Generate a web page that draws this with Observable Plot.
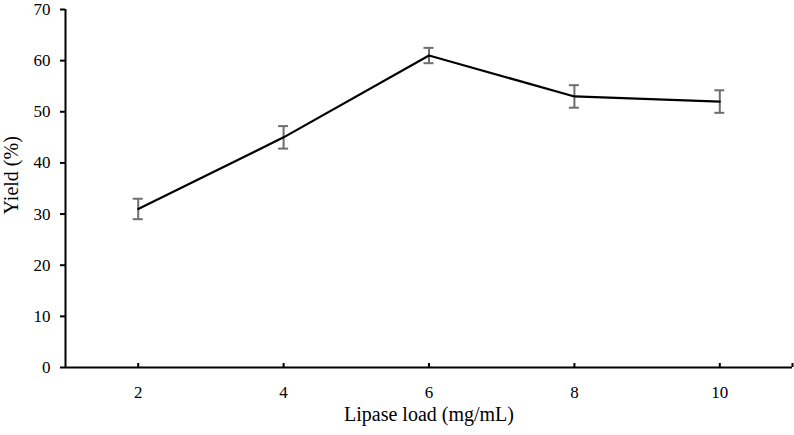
<!DOCTYPE html>
<html>
<head>
<meta charset="utf-8">
<script src="https://cdn.jsdelivr.net/npm/d3@7"></script>
<script src="https://cdn.jsdelivr.net/npm/@observablehq/plot@0.6"></script>
<style>
  html, body { margin: 0; padding: 0; background: #fff; }
  #chart svg { display: block; }
</style>
</head>
<body>
<div id="chart"></div>
<script>
const lipaseLoad = [2, 4, 6, 8, 10];
const yieldPct = [31, 45, 61, 53, 52];
const errPct = [2.0, 2.2, 1.5, 2.2, 2.2];
const xTicks = [2, 4, 6, 8, 10];
const yTicks = [0, 10, 20, 30, 40, 50, 60, 70];
const xTitle = "Lipase load (mg/mL)";
const yTitle = "Yield (%)";

const data = lipaseLoad.map((x, i) => ({x, y: yieldPct[i], e: errPct[i]}));
const font = "'Liberation Serif', 'Times New Roman', serif";

const chart = Plot.plot({
  width: 794,
  height: 435,
  marginLeft: 65,
  marginRight: 2,
  marginTop: 9,
  marginBottom: 68,
  style: {fontFamily: font, fontSize: "17px", color: "#000", background: "#fff", overflow: "visible"},
  x: {domain: [1, 11]},
  y: {domain: [0, 70]},
  marks: [
    Plot.axisY(yTicks, {tickSize: 5, tickPadding: 10, strokeWidth: 2, fontSize: 17, label: null}),
    Plot.axisX(xTicks, {tickSize: 0, tickPadding: 18, fontSize: 17, label: null}),
    Plot.tickX([...xTicks, 11], {x: d => d, stroke: "#000", strokeWidth: 2, render: (index, scales, values, dims, ctx, next) => {
      const g = next(index, scales, values, dims, ctx);
      d3.select(g).selectAll("line").attr("y1", dims.height - dims.marginBottom - 4).attr("y2", dims.height - dims.marginBottom);
      return g;
    }}),
    Plot.ruleX([1], {stroke: "#000", strokeWidth: 2}),
    Plot.ruleY([0], {stroke: "#000", strokeWidth: 2}),
    Plot.ruleX(data, {x: "x", y1: d => d.y - d.e, y2: d => d.y + d.e, stroke: "#6e6e6e", strokeWidth: 2}),
    Plot.ruleY(data, {x1: "x", x2: "x", y: d => d.y + d.e, insetLeft: -5, insetRight: -5, stroke: "#6e6e6e", strokeWidth: 2}),
    Plot.ruleY(data, {x1: "x", x2: "x", y: d => d.y - d.e, insetLeft: -5, insetRight: -5, stroke: "#6e6e6e", strokeWidth: 2}),
    Plot.line(data, {x: "x", y: "y", stroke: "#000", strokeWidth: 2.2}),
    Plot.text([xTitle], {frameAnchor: "bottom", dy: 53, fontSize: 20, fill: "#000"}),
    Plot.text([yTitle], {frameAnchor: "left", dx: -54, dy: 26, rotate: -90, fontSize: 20, fill: "#000"})
  ]
});
document.getElementById("chart").appendChild(chart);
</script>
</body>
</html>
